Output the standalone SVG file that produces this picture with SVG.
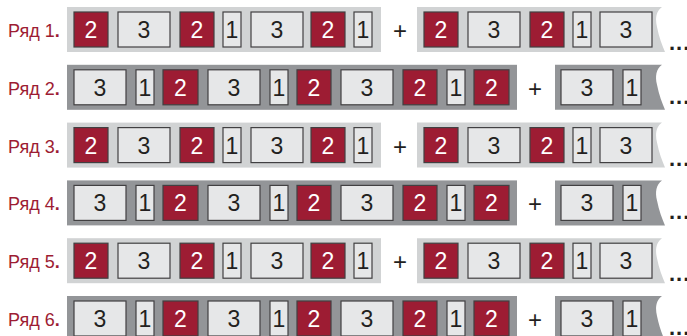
<svg xmlns="http://www.w3.org/2000/svg" xmlns:xlink="http://www.w3.org/1999/xlink" width="687" height="336" viewBox="0 0 687 336">
<style>
.bl{fill:#d1d3d4}
.bd{fill:#939598}
.r{fill:#9d1c33;stroke:#414042;stroke-width:1.2}
.l{fill:#e6e7e8;stroke:#414042;stroke-width:1.2}
.d{font-family:"Liberation Sans",Arial,sans-serif;font-size:23px;text-anchor:middle;fill:#231f20}
.w{fill:#ffffff}
.lab{font-family:"Liberation Sans",Arial,sans-serif;font-size:18px;fill:#9d1c33}
.pl{font-family:"Liberation Sans",Arial,sans-serif;font-size:24px;text-anchor:middle;fill:#231f20}
.dots{font-family:"Liberation Sans",Arial,sans-serif;font-size:22px;font-weight:bold;fill:#231f20;letter-spacing:1px}
</style>
<defs>
<g id="oddRow">
<rect class="bl" x="67" y="0" width="314" height="45"/>
<rect class="r" x="74" y="5" width="34" height="35"/><text class="d w" x="91" y="31">2</text>
<rect class="l" x="118" y="5" width="52" height="35"/><text class="d" x="144" y="31">3</text>
<rect class="r" x="180" y="5" width="34" height="35"/><text class="d w" x="197" y="31">2</text>
<rect class="l" x="223" y="5" width="18" height="35"/><text class="d" x="232" y="31">1</text>
<rect class="l" x="251" y="5" width="52" height="35"/><text class="d" x="277" y="31">3</text>
<rect class="r" x="311" y="5" width="34" height="35"/><text class="d w" x="328" y="31">2</text>
<rect class="l" x="354" y="5" width="18" height="35"/><text class="d" x="363" y="31">1</text>
<text class="pl" x="400" y="32">+</text>
<path class="bl" d="M417,0 H662 C656,4 655,12 657,20 C659,30 662,38 665,45 H417 Z"/>
<rect class="r" x="424" y="5" width="34" height="35"/><text class="d w" x="441" y="31">2</text>
<rect class="l" x="468" y="5" width="52" height="35"/><text class="d" x="494" y="31">3</text>
<rect class="r" x="530" y="5" width="34" height="35"/><text class="d w" x="547" y="31">2</text>
<rect class="l" x="573" y="5" width="18" height="35"/><text class="d" x="582" y="31">1</text>
<rect class="l" x="600" y="5" width="52" height="35"/><text class="d" x="626" y="31">3</text>
<text class="dots" x="669" y="43">...</text>
</g>
<g id="evenRow">
<rect class="bd" x="67" y="0" width="450" height="45"/>
<rect class="l" x="74" y="5" width="52" height="35"/><text class="d" x="100" y="31">3</text>
<rect class="l" x="136" y="5" width="18" height="35"/><text class="d" x="145" y="31">1</text>
<rect class="r" x="163" y="5" width="35" height="35"/><text class="d w" x="180.5" y="31">2</text>
<rect class="l" x="208" y="5" width="52" height="35"/><text class="d" x="234" y="31">3</text>
<rect class="l" x="270" y="5" width="18" height="35"/><text class="d" x="279" y="31">1</text>
<rect class="r" x="297" y="5" width="34" height="35"/><text class="d w" x="314" y="31">2</text>
<rect class="l" x="341" y="5" width="52" height="35"/><text class="d" x="367" y="31">3</text>
<rect class="r" x="403" y="5" width="34" height="35"/><text class="d w" x="420" y="31">2</text>
<rect class="l" x="447" y="5" width="18" height="35"/><text class="d" x="456" y="31">1</text>
<rect class="r" x="474" y="5" width="35" height="35"/><text class="d w" x="491.5" y="31">2</text>
<text class="pl" x="535" y="32">+</text>
<path class="bd" d="M555,0 H662 C656,4 655,12 657,20 C659,30 662,38 665,45 H555 Z"/>
<rect class="l" x="561" y="5" width="52" height="35"/><text class="d" x="587" y="31">3</text>
<rect class="l" x="623" y="5" width="18" height="35"/><text class="d" x="632" y="31">1</text>
<text class="dots" x="669" y="39">...</text>
</g>
</defs>
<g id="row1" transform="translate(0,7)"><text class="lab" x="8" y="30">Ряд 1<tspan font-weight="bold">.</tspan></text><use xlink:href="#oddRow"/></g>
<g id="row2" transform="translate(0,64.8)"><text class="lab" x="8" y="30">Ряд 2<tspan font-weight="bold">.</tspan></text><use xlink:href="#evenRow"/></g>
<g id="row3" transform="translate(0,122.6)"><text class="lab" x="8" y="30">Ряд 3<tspan font-weight="bold">.</tspan></text><use xlink:href="#oddRow"/></g>
<g id="row4" transform="translate(0,180.4)"><text class="lab" x="8" y="30">Ряд 4<tspan font-weight="bold">.</tspan></text><use xlink:href="#evenRow"/></g>
<g id="row5" transform="translate(0,238.2)"><text class="lab" x="8" y="30">Ряд 5<tspan font-weight="bold">.</tspan></text><use xlink:href="#oddRow"/></g>
<g id="row6" transform="translate(0,296)"><text class="lab" x="8" y="30">Ряд 6<tspan font-weight="bold">.</tspan></text><use xlink:href="#evenRow"/></g>
<g id="connectors"/>
</svg>
